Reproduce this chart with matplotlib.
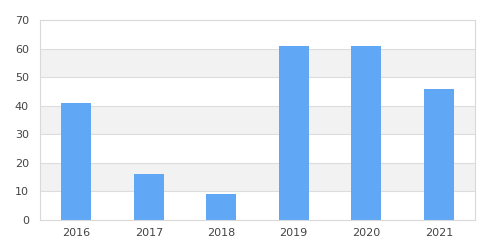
import matplotlib.pyplot as plt

years = ["2016", "2017", "2018", "2019", "2020", "2021"]
values = [41, 16, 9, 61, 61, 46]
yticks = [0, 10, 20, 30, 40, 50, 60, 70]

fig = plt.figure(figsize=(4.85, 2.5), dpi=100)
ax = fig.add_axes([40 / 485, 30 / 250, 435 / 485, 200 / 250])

# alternating horizontal bands behind the bars
for lo in (10, 30, 50):
    ax.axhspan(lo, lo + 10, color="#f2f2f2", zorder=0, lw=0)
for y in yticks[1:-1]:
    ax.axhline(y, color="#dddddd", lw=0.8, zorder=1)

ax.bar(range(len(years)), values, width=0.41, color="#60a8f5", zorder=2)

ax.set_xlim(-0.5, len(years) - 0.5)
ax.set_ylim(0, 70)
ax.set_yticks(yticks)
ax.set_xticks(range(len(years)))
ax.set_xticklabels(years)
ax.tick_params(length=0, labelsize=8, colors="#444444", pad=6)
ax.tick_params(axis="y", pad=8)
for s in ax.spines.values():
    s.set_color("#d9d9d9")
    s.set_linewidth(0.8)

fig.savefig("out.png", dpi=100)
